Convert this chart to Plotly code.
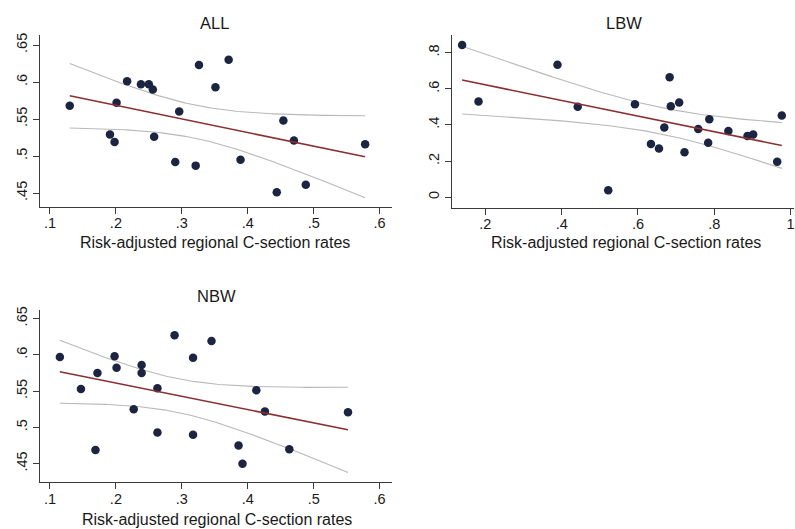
import numpy as np
import plotly.graph_objects as go

# ---------------- data ----------------
all_x = [0.130, 0.191, 0.198, 0.201, 0.217, 0.238, 0.250, 0.256, 0.258, 0.290, 0.296,
         0.321, 0.326, 0.351, 0.371, 0.389, 0.444, 0.454, 0.470, 0.488, 0.578]
all_y = [0.568, 0.529, 0.519, 0.572, 0.601, 0.597, 0.597, 0.590, 0.526, 0.492, 0.560,
         0.487, 0.623, 0.593, 0.630, 0.495, 0.451, 0.548, 0.521, 0.461, 0.516]

lbw_x = [0.139, 0.182, 0.389, 0.442, 0.522, 0.592, 0.634, 0.655, 0.669, 0.683, 0.686,
         0.708, 0.722, 0.758, 0.784, 0.787, 0.837, 0.887, 0.902, 0.965, 0.977]
lbw_y = [0.843, 0.530, 0.734, 0.501, 0.039, 0.515, 0.294, 0.270, 0.386, 0.664, 0.504,
         0.525, 0.249, 0.378, 0.301, 0.431, 0.367, 0.339, 0.347, 0.196, 0.452]

nbw_x = [0.115, 0.147, 0.169, 0.172, 0.198, 0.201, 0.227, 0.239, 0.239, 0.263, 0.263,
         0.289, 0.317, 0.317, 0.345, 0.413, 0.426, 0.386, 0.392, 0.463, 0.552]
nbw_y = [0.597, 0.553, 0.469, 0.575, 0.598, 0.582, 0.525, 0.586, 0.575, 0.554, 0.493,
         0.627, 0.596, 0.490, 0.619, 0.551, 0.522, 0.475, 0.450, 0.470, 0.521]

panel_titles = ["ALL", "LBW", "NBW"]
x_title = "Risk-adjusted regional C-section rates"

x_ticks_a = [0.1, 0.2, 0.3, 0.4, 0.5, 0.6]
x_text_a = [".1", ".2", ".3", ".4", ".5", ".6"]
y_ticks_a = [0.45, 0.5, 0.55, 0.6, 0.65]
y_text_a = [".45", ".5", ".55", ".6", ".65"]
x_ticks_l = [0.2, 0.4, 0.6, 0.8, 1.0]
x_text_l = [".2", ".4", ".6", ".8", "1"]
y_ticks_l = [0.0, 0.2, 0.4, 0.6, 0.8]
y_text_l = ["0", ".2", ".4", ".6", ".8"]

T_CRIT = 2.093  # t(0.975, df=19)

# ---------------- styles ----------------
DOT = "#1b2440"
FIT = "#8a3030"
CI = "#b9b9b9"
AXC = "#3a3a3a"
TXT = "#1a1a1a"
FONT = "Liberation Sans, Arial, sans-serif"
W, H = 795, 529


def fitci(x, y):
    x = np.asarray(x, float)
    y = np.asarray(y, float)
    n = len(x)
    b, a = np.polyfit(x, y, 1)
    res = y - (a + b * x)
    s = np.sqrt(np.sum(res ** 2) / (n - 2))
    sxx = np.sum((x - x.mean()) ** 2)
    xs = np.linspace(x.min(), x.max(), 120)
    yh = a + b * xs
    se = s * np.sqrt(1.0 / n + (xs - x.mean()) ** 2 / sxx)
    return xs, yh, yh - T_CRIT * se, yh + T_CRIT * se


fig = go.Figure()

panels = [
    (all_x, all_y, "x", "y"),
    (lbw_x, lbw_y, "x2", "y2"),
    (nbw_x, nbw_y, "x3", "y3"),
]
for px, py, xa, ya in panels:
    xs, yh, lo, hi = fitci(px, py)
    fig.add_trace(go.Scatter(x=xs, y=hi, mode="lines", line=dict(color=CI, width=1.1),
                             xaxis=xa, yaxis=ya, showlegend=False, hoverinfo="skip"))
    fig.add_trace(go.Scatter(x=xs, y=lo, mode="lines", line=dict(color=CI, width=1.1),
                             xaxis=xa, yaxis=ya, showlegend=False, hoverinfo="skip"))
    fig.add_trace(go.Scatter(x=px, y=py, mode="markers", cliponaxis=False,
                             marker=dict(color=DOT, size=8.5, line=dict(width=0)),
                             xaxis=xa, yaxis=ya, showlegend=False))
    fig.add_trace(go.Scatter(x=xs, y=yh, mode="lines", line=dict(color=FIT, width=1.6),
                             xaxis=xa, yaxis=ya, showlegend=False, hoverinfo="skip"))


def px2paper_x(p):
    return p / W


def px2paper_y(p):
    return 1 - p / H


common = dict(showline=True, linecolor=AXC, linewidth=1.3, ticks="outside", ticklen=6,
              tickwidth=1.2, tickcolor=AXC, showgrid=False, zeroline=False,
              tickfont=dict(family=FONT, size=14.5, color=TXT), fixedrange=True,
              ticklabeloverflow="allow")
xc = dict(ticklabelstandoff=-3, **common)
yc = dict(ticklabelstandoff=0, tickangle=-90, **common)

fig.update_layout(
    width=W, height=H, margin=dict(l=0, r=0, t=0, b=0),
    paper_bgcolor="white", plot_bgcolor="white",
    xaxis=dict(domain=[px2paper_x(40), px2paper_x(392)], range=[0.0848, 0.618],
               tickvals=x_ticks_a, ticktext=x_text_a, anchor="y", **xc),
    yaxis=dict(domain=[px2paper_y(205), px2paper_y(32.3)], range=[0.4313, 0.6634],
               tickvals=y_ticks_a, ticktext=y_text_a, anchor="x", **yc),
    xaxis2=dict(domain=[px2paper_x(452.7), 1.0], range=[0.1128, 1.009],
                tickvals=x_ticks_l, ticktext=x_text_l, anchor="y2", **xc),
    yaxis2=dict(domain=[px2paper_y(206), px2paper_y(32.3)], range=[-0.059, 0.8976],
                tickvals=y_ticks_l, ticktext=y_text_l, anchor="x2", **yc),
    xaxis3=dict(domain=[px2paper_x(40), px2paper_x(392)], range=[0.0848, 0.618],
                tickvals=x_ticks_a, ticktext=x_text_a, anchor="y3", **xc),
    yaxis3=dict(domain=[px2paper_y(481.7), px2paper_y(308.3)], range=[0.4248, 0.6623],
                tickvals=y_ticks_a, ticktext=y_text_a, anchor="x3", **yc),
)

ann = []
title_pos = [(215, 20), (625, 20), (217, 295)]
xt_pos = [(215.5, 241), (627, 241), (217, 519)]
for t, (tx, ty) in zip(panel_titles, title_pos):
    ann.append(dict(text=t, x=px2paper_x(tx), y=px2paper_y(ty), xref="paper", yref="paper",
                    showarrow=False, xanchor="center", yanchor="middle",
                    font=dict(family=FONT, size=16.5, color=TXT)))
for tx, ty in xt_pos:
    ann.append(dict(text=x_title, x=px2paper_x(tx), y=px2paper_y(ty), xref="paper",
                    yref="paper", showarrow=False, xanchor="center", yanchor="middle",
                    font=dict(family=FONT, size=16, color=TXT)))
fig.update_layout(annotations=ann)

fig.write_html(
    "out.html",
    config={"displayModeBar": False},
    post_script="document.body.style.margin='0';document.body.style.overflow='hidden';",
)
